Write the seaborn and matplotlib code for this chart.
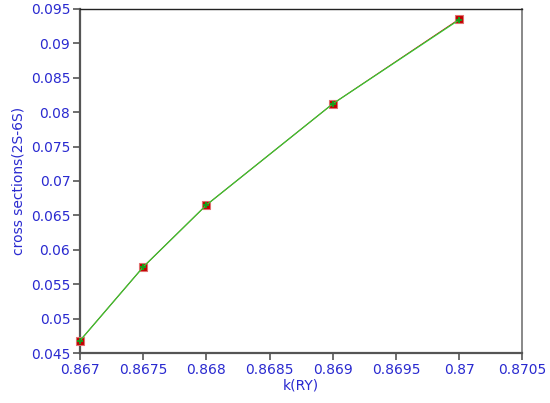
import matplotlib
matplotlib.use("Agg")
import matplotlib.pyplot as plt
import seaborn as sns
import pandas as pd

k_ry = [0.867, 0.8675, 0.868, 0.869, 0.870]
cross_red = [0.0468, 0.0575, 0.0665, 0.0812, 0.0935]
cross_green = [0.0468, 0.0575, 0.0665, 0.0812, 0.0934]

sns.set_style("white")
plt.rcParams['font.family'] = ['DejaVu Sans']

blue = "#2a2ad0"
df = pd.DataFrame({"k": k_ry, "red": cross_red, "green": cross_green})

fig = plt.figure(figsize=(5.5, 4.03), dpi=100)
ax = fig.add_axes([0.1455, 0.124, 0.804, 0.854])

sns.lineplot(data=df, x="k", y="red", ax=ax, color="#c00000", lw=0.7,
             marker="s", markersize=6, markeredgecolor="#e07070", markeredgewidth=0.8,
             clip_on=False, zorder=3)
sns.lineplot(data=df, x="k", y="green", ax=ax, color="#33cc33", lw=0.9,
             marker="P", markersize=5, markeredgewidth=0, markerfacecolor="#1a9a1a",
             clip_on=False, zorder=4)

ax.set_xlim(0.867, 0.8705)
ax.set_ylim(0.045, 0.095)
ax.set_xticks([0.867, 0.8675, 0.868, 0.8685, 0.869, 0.8695, 0.87, 0.8705])
ax.set_xticklabels(["0.867", "0.8675", "0.868", "0.8685", "0.869", "0.8695", "0.87", "0.8705"])
ax.set_yticks([0.045, 0.05, 0.055, 0.06, 0.065, 0.07, 0.075, 0.08, 0.085, 0.09, 0.095])
ax.set_yticklabels(["0.045", "0.05", "0.055", "0.06", "0.065", "0.07", "0.075",
                    "0.08", "0.085", "0.09", "0.095"])

ax.tick_params(axis="both", direction="out", length=5, width=1.2, colors="#555555",
               labelcolor=blue, labelsize=10, bottom=True, left=True, top=False,
               right=False, pad=2)
ax.set_xlabel("k(RY)", color=blue, fontsize=10, labelpad=1)
ax.set_ylabel("cross sections(2S-6S)", color=blue, fontsize=10, labelpad=4)

for side in ["left", "bottom"]:
    ax.spines[side].set_color("#555555")
    ax.spines[side].set_linewidth(1.6)
ax.spines["top"].set_color("#222222")
ax.spines["top"].set_linewidth(1.0)
ax.spines["right"].set_color("#888888")
ax.spines["right"].set_linewidth(1.4)

fig.savefig("out.png", dpi=100)
